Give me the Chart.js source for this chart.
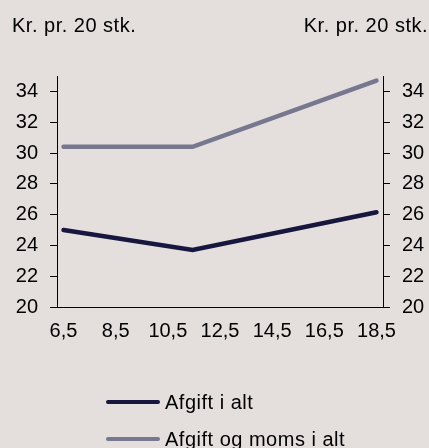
<!DOCTYPE html>
<html><head><meta charset="utf-8">
<script src="https://cdn.jsdelivr.net/npm/chart.js@4"></script>
<style>html,body{margin:0;padding:0;background:#e4dedd;}#wrap{width:429px;height:448px;position:relative}canvas{display:block}</style>
</head><body><div id="wrap"><canvas id="c" width="429" height="448"></canvas></div>
<script>
const xValues = [6.5, 11.45, 18.5];
const afgiftIAlt = [25.0, 23.7, 26.15];
const afgiftOgMoms = [30.4, 30.4, 34.7];
const seriesNames = ['Afgift i alt', 'Afgift og moms i alt'];
const seriesColors = ['#16163f', '#777790'];
const xTicks = [6.5, 8.5, 10.5, 12.5, 14.5, 16.5, 18.5];
const xTickLabels = ['6,5', '8,5', '10,5', '12,5', '14,5', '16,5', '18,5'];
const yTicks = [20, 22, 24, 26, 28, 30, 32, 34];
const axisTitles = ['Kr. pr. 20 stk.', 'Kr. pr. 20 stk.'];

const FONT = 'Arial, "Liberation Sans", sans-serif';
Chart.defaults.font.family = FONT;
Chart.defaults.font.size = 20;
Chart.defaults.color = '#000';

const toPoints = (ys) => ys.map((y, i) => ({x: xValues[i], y}));

const overlayPlugin = {
  id: 'overlay',
  afterDraw(chart) {
    const ctx = chart.ctx;
    ctx.save();
    ctx.font = '20px ' + FONT;
    try { ctx.letterSpacing = '0.5px'; } catch (e) {}
    ctx.fillStyle = '#000';
    ctx.textBaseline = 'alphabetic';
    ctx.textAlign = 'left';
    ctx.fillText(axisTitles[0], 12, 32);
    ctx.textAlign = 'right';
    ctx.fillText(axisTitles[1], 428, 32);
    chart.data.datasets.forEach((ds, i) => {
      const y = 402 + i * 37;
      ctx.strokeStyle = ds.borderColor;
      ctx.lineWidth = 4;
      ctx.lineCap = 'round';
      ctx.beginPath();
      ctx.moveTo(108, y);
      ctx.lineTo(158, y);
      ctx.stroke();
      ctx.textAlign = 'left';
      ctx.fillText(ds.label, 165, y + 7);
    });
    ctx.restore();
  }
};

const yAxis = (position, width) => ({
  type: 'linear',
  position,
  min: 20,
  max: 35,
  afterBuildTicks: (s) => { s.ticks = yTicks.map(v => ({value: v})); },
  afterFit: (s) => { s.width = width; },
  grid: { drawOnChartArea: false, drawTicks: true, tickLength: 7, color: '#000', tickColor: '#000' },
  border: { display: true, color: '#000', width: 1 },
  ticks: { padding: 12, color: '#000', font: { size: 20 } }
});

new Chart(document.getElementById('c'), {
  type: 'line',
  data: {
    datasets: [
      { label: seriesNames[0], data: toPoints(afgiftIAlt), borderColor: seriesColors[0], borderWidth: 4.5, pointRadius: 0, tension: 0, borderCapStyle: 'round', borderJoinStyle: 'miter', yAxisID: 'y' },
      { label: seriesNames[1], data: toPoints(afgiftOgMoms), borderColor: seriesColors[1], borderWidth: 4.5, pointRadius: 0, tension: 0, borderCapStyle: 'round', borderJoinStyle: 'miter', yAxisID: 'y' }
    ]
  },
  options: {
    responsive: false,
    animation: false,
    devicePixelRatio: 1,
    layout: { padding: { top: 76, left: 0, right: 0, bottom: 0 } },
    plugins: { legend: { display: false }, tooltip: { enabled: false } },
    scales: {
      x: {
        type: 'linear',
        min: 6.25,
        max: 18.75,
        afterBuildTicks: (s) => { s.ticks = xTicks.map(v => ({value: v})); },
        afterFit: (s) => { s.height = 141; },
        grid: { display: false, drawTicks: false },
        border: { display: true, color: '#000', width: 1 },
        ticks: { padding: 12, color: '#000', maxRotation: 0, autoSkip: false,
          callback: (v) => { const i = xTicks.indexOf(v); return i >= 0 ? xTickLabels[i] : ''; } }
      },
      y: yAxis('left', 57),
      y1: yAxis('right', 46)
    }
  },
  plugins: [overlayPlugin]
});
</script>
</body></html>
